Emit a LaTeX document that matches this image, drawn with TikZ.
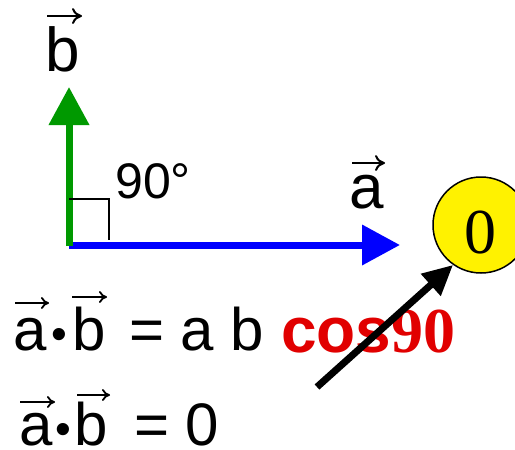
\documentclass[tikz,border=0pt]{standalone}
\usepackage{fontspec}
\setmainfont{Liberation Sans}
\newfontfamily\sansbold{Liberation Sans Bold}
\newfontfamily\tnr{Liberation Serif}
\newfontfamily\tnrbold{Liberation Serif Bold}
\usetikzlibrary{arrows.meta}
\definecolor{vgreen}{RGB}{0,153,0}
\definecolor{vred}{RGB}{225,0,0}
\begin{document}
\begin{tikzpicture}[x=1pt,y=-1pt,
  txt/.style={inner sep=0pt, anchor=base west},
  biglbl/.style={txt, font=\fontsize{62}{70}\selectfont},
  eqtxt/.style={txt, font=\fontsize{60}{66}\selectfont},
  bul/.style={txt, font=\fontsize{45}{50}\selectfont},
  vecbig/.style={line width=2pt, -{To[length=10pt,width=16pt]}},
  vecsmall/.style={line width=1.8pt, -{To[length=8pt,width=12pt]}},
  vecline/.style={line width=7pt, -{Triangle[length=38pt,width=39pt]}},
  pointer/.style={line width=7pt, -{Triangle[length=30pt,width=28pt]}},
]
\useasboundingbox (0,0) rectangle (515,450);
\clip (0,0) rectangle (515,450);

% vectors
\coordinate (O) at (69,245);
\coordinate (atip) at (400,245);
\coordinate (bbase) at (69,246);
\coordinate (btip) at (69,87);
\draw[vecline, blue] (O) -- (atip);
\draw[vecline, vgreen] (bbase) -- (btip);
\draw[line width=1.2pt] ([shift={(0,-46)}]O) -- ++(40,0) -- ++(0,41);

% labels
\node[biglbl] (lb) at (45,71) {b};
\draw[vecbig] ([shift={(2,-55)}]lb.base west) -- ++(35,0);
\node[biglbl] (la) at (349,208) {a};
\draw[vecbig] ([shift={(3,-45)}]la.base west) -- ++(33,0);
\node[txt, font=\fontsize{50}{56}\selectfont] (ang) at (115,198) {90°};

% circle with zero
\node[circle, minimum size=96pt, inner sep=0pt, draw, line width=1.5pt, fill=yellow] (circ) at (481,225) {};
\node[inner sep=0pt, anchor=base, font=\tnr\fontsize{64}{70}\selectfont] (zero) at (480,253) {0};

% cos90
\node[txt, text=vred, font=\fontsize{64}{70}\selectfont] (cos) at (281,352) {{\sansbold cos}{\tnrbold 90}};

% equation line 1
\node[eqtxt] (a1) at (13,350) {a};
\node[bul] (d1) at (51,349) {•};
\node[eqtxt] (b1) at (72,350) {b};
\node[eqtxt] (r1) at (129,350) {= a b};
\draw[vecsmall] ([shift={(2,-47)}]a1.base west) -- ++(34,0);
\draw[vecsmall] ([shift={(0,-53)}]b1.base west) -- ++(35,0);

% equation line 2
\node[eqtxt] (a2) at (19,445) {a};
\node[bul] (d2) at (55,444) {•};
\node[eqtxt] (b2) at (74,445) {b};
\node[eqtxt] (r2) at (134,445) {= 0};
\draw[vecsmall] ([shift={(1,-43)}]a2.base west) -- ++(35,0);
\draw[vecsmall] ([shift={(3,-50)}]b2.base west) -- ++(33,0);

% pointer arrow
\coordinate (tail) at (317,387);
\draw[pointer] (tail) -- (circ.235);
\end{tikzpicture}
\end{document}
